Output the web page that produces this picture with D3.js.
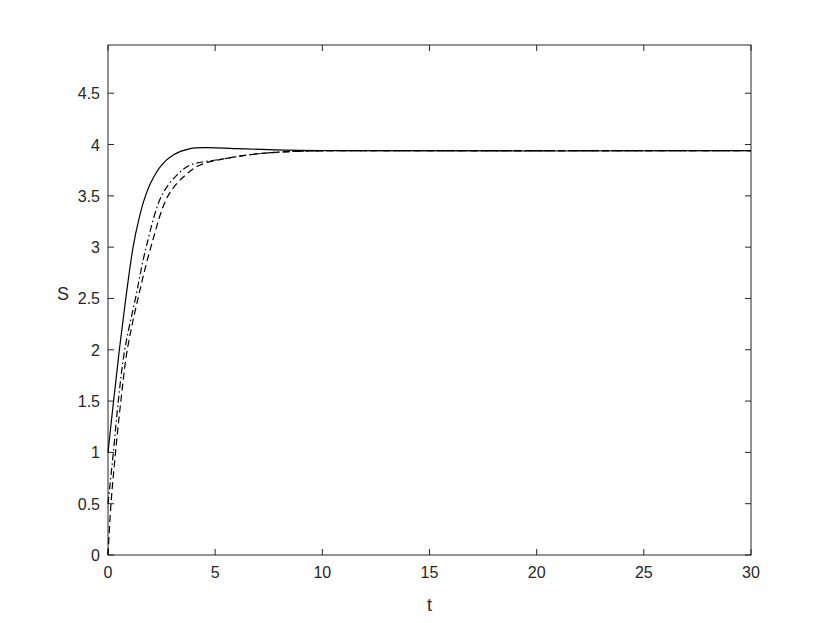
<!DOCTYPE html>
<html>
<head>
<meta charset="utf-8">
<script src="https://cdn.jsdelivr.net/npm/d3@7"></script>
<style>
  body { margin: 0; background: #fff; }
  svg { font-family: "Liberation Sans", Arial, sans-serif; }
</style>
</head>
<body>
<svg id="chart" width="830" height="623"></svg>
<script>
// solid curve (S0 = 1)
var solidT = [0, 0.26, 0.53, 0.83, 1.17, 1.45, 1.7, 2.0, 2.5, 3.06, 3.84, 4.6, 6, 7.5, 10, 30];
var solidS = [1, 1.5, 2.0, 2.5, 3.0, 3.28, 3.47, 3.63, 3.8, 3.9, 3.96, 3.97, 3.96, 3.95, 3.94, 3.94];

// dash-dot curve (S0 = 0.5)
var dashDotT = [0, 0.25, 0.48, 0.78, 1.28, 1.78, 2.5, 3.2, 3.84, 5.4, 7, 9, 12, 30];
var dashDotS = [0.5, 1.0, 1.5, 2.0, 2.5, 3.0, 3.5, 3.7, 3.8, 3.86, 3.91, 3.935, 3.94, 3.94];

// dashed curve (S0 = 0)
var dashedT = [0, 0.14, 0.35, 0.6, 0.9, 1.4, 2.0, 2.8, 3.6, 4.3, 5.4, 7, 9, 12, 30];
var dashedS = [0, 0.5, 1.0, 1.5, 2.0, 2.5, 3.0, 3.5, 3.7, 3.8, 3.86, 3.91, 3.935, 3.94, 3.94];

var xTicks = [0, 5, 10, 15, 20, 25, 30];
var yTicks = [0, 0.5, 1, 1.5, 2, 2.5, 3, 3.5, 4, 4.5];

var svg = d3.select("#chart"),
    plotLeft = 108, plotRight = 751, plotTop = 45, plotBottom = 555;

var x = d3.scaleLinear().domain([0, 30]).range([plotLeft, plotRight]);
var y = d3.scaleLinear().domain([0, 4.97]).range([plotBottom, plotTop]);

var axisColor = "#262626";

// box
svg.append("rect")
    .attr("x", plotLeft).attr("y", plotTop)
    .attr("width", plotRight - plotLeft).attr("height", plotBottom - plotTop)
    .attr("fill", "none").attr("stroke", axisColor).attr("stroke-width", 1);

// ticks (inward, on all four sides)
var tl = 6;
xTicks.forEach(function (d) {
    svg.append("line").attr("x1", x(d)).attr("x2", x(d)).attr("y1", plotBottom).attr("y2", plotBottom - tl)
        .attr("stroke", axisColor);
    svg.append("line").attr("x1", x(d)).attr("x2", x(d)).attr("y1", plotTop).attr("y2", plotTop + tl)
        .attr("stroke", axisColor);
    svg.append("text").attr("x", x(d)).attr("y", plotBottom + 23)
        .attr("text-anchor", "middle").attr("font-size", "16px").attr("fill", axisColor)
        .text(d);
});
yTicks.forEach(function (d) {
    svg.append("line").attr("x1", plotLeft).attr("x2", plotLeft + tl).attr("y1", y(d)).attr("y2", y(d))
        .attr("stroke", axisColor);
    svg.append("line").attr("x1", plotRight).attr("x2", plotRight - tl).attr("y1", y(d)).attr("y2", y(d))
        .attr("stroke", axisColor);
    svg.append("text").attr("x", plotLeft - 8).attr("y", y(d) + 6)
        .attr("text-anchor", "end").attr("font-size", "16px").attr("fill", axisColor)
        .text(d);
});

// axis labels
svg.append("text").attr("x", (plotLeft + plotRight) / 2).attr("y", plotBottom + 56)
    .attr("text-anchor", "middle").attr("font-size", "18px").attr("fill", axisColor).text("t");
svg.append("text").attr("x", 63).attr("y", 300)
    .attr("text-anchor", "middle").attr("font-size", "18px").attr("fill", axisColor).text("S");

var line = d3.line()
    .x(function (d) { return x(d[0]); })
    .y(function (d) { return y(d[1]); })
    .curve(d3.curveCatmullRom.alpha(0.5));

function drawCurve(ts, ss, dash) {
    svg.append("path")
        .datum(ts.map(function (t, i) { return [t, ss[i]]; }))
        .attr("d", line)
        .attr("fill", "none")
        .attr("stroke", "#000")
        .attr("stroke-width", 1.2)
        .attr("stroke-dasharray", dash);
}

drawCurve(dashedT, dashedS, "7,4");
drawCurve(dashDotT, dashDotS, "7,3,1.5,3");
drawCurve(solidT, solidS, null);
</script>
</body>
</html>
